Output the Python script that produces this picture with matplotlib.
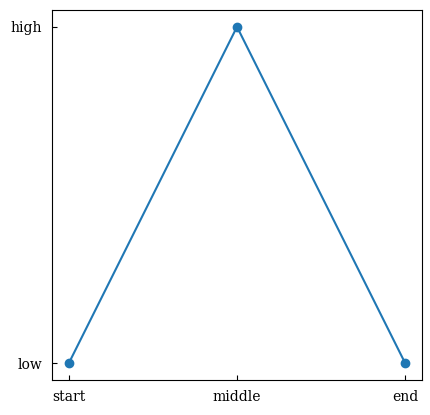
import matplotlib
matplotlib.use("Agg")
import matplotlib.pyplot as plt

plt.rcParams['font.family'] = ['DejaVu Serif']

x_labels = ["start", "middle", "end"]
y_labels = ["low", "high"]
y_values = ["low", "high", "low"]

fig = plt.figure(figsize=(4.31, 4.15), dpi=100)
ax = fig.add_axes([52/431, 35/415, 370/431, 370/415])

xi = list(range(len(x_labels)))
yi = [y_labels.index(v) for v in y_values]
ax.plot(xi, yi, marker='o', color='#1f77b4')
ax.set_xticks(range(len(x_labels)))
ax.set_xticklabels(x_labels)
ax.set_yticks(range(len(y_labels)))
ax.set_yticklabels(y_labels)
ax.tick_params(direction='in', length=3.5, pad=7)

fig.savefig("out.png", dpi=100)
